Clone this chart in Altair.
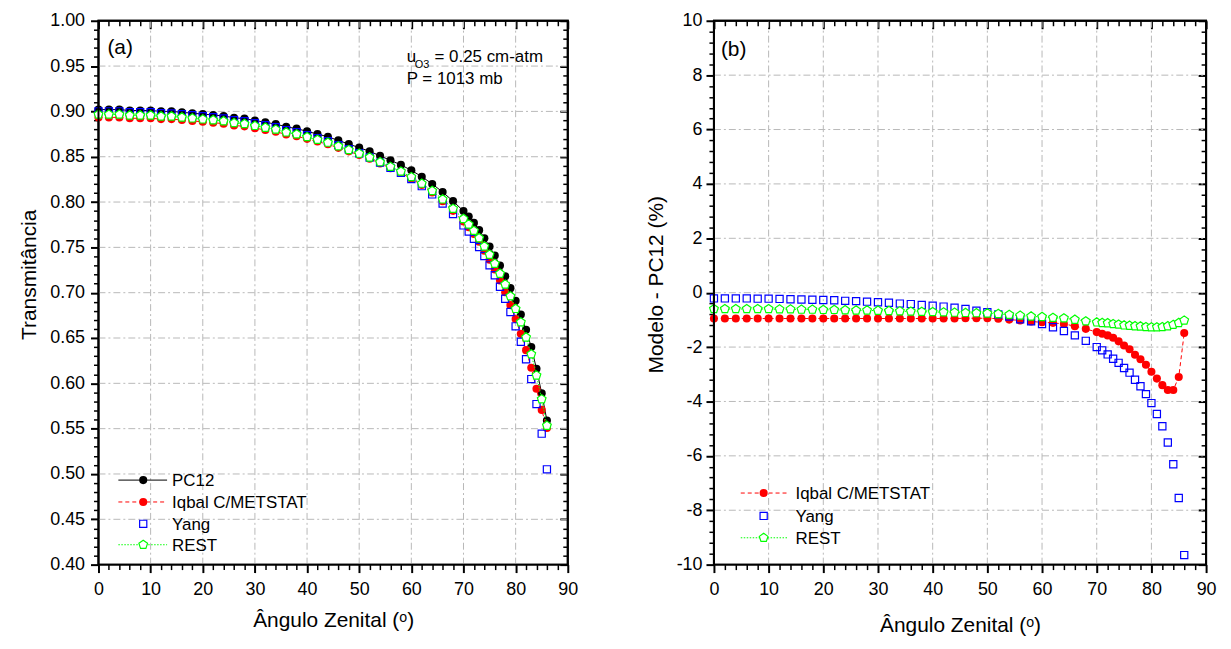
import altair as alt
import pandas as pd

FONT = "Liberation Sans"

# ---------------- data ----------------
angles = [0, 2, 4, 6, 8, 10, 12, 14, 16, 18, 20, 22, 24, 26, 28, 30, 32, 34, 36, 38,
          40, 42, 44, 46, 48, 50, 52, 54, 56, 58, 60, 62, 64, 66, 68, 70,
          71, 72, 73, 74, 75, 76, 77, 78, 79, 80, 81, 82, 83, 84, 85, 86]

pc12 = [0.902, 0.902, 0.902, 0.901, 0.901, 0.901, 0.900, 0.900, 0.899, 0.898,
        0.897, 0.896, 0.895, 0.893, 0.892, 0.890, 0.888, 0.886, 0.883, 0.881,
        0.878, 0.875, 0.872, 0.868, 0.864, 0.860, 0.856, 0.851, 0.846, 0.841,
        0.835, 0.828, 0.820, 0.811, 0.801, 0.790,
        0.784, 0.777, 0.769, 0.760, 0.751, 0.741, 0.730, 0.718, 0.705, 0.691,
        0.676, 0.659, 0.640, 0.616, 0.589, 0.559]

iqbal = [0.8934, 0.8934, 0.8934, 0.8924, 0.8924, 0.8924, 0.8915, 0.8915, 0.8905, 0.8895,
         0.8885, 0.8875, 0.8865, 0.8845, 0.8835, 0.8815, 0.8796, 0.8776, 0.8746, 0.8726,
         0.8697, 0.8667, 0.8637, 0.8598, 0.8559, 0.8519, 0.8478, 0.8426, 0.8374, 0.8321,
         0.8259, 0.8188, 0.8106, 0.8010, 0.7903, 0.7785,
         0.7722, 0.7648, 0.7562, 0.7464, 0.7364, 0.7256, 0.7134, 0.7004, 0.6863, 0.6709,
         0.6546, 0.6366, 0.6171, 0.5940, 0.5707, 0.5507]

yang = [0.9001, 0.9001, 0.9001, 0.8991, 0.8990, 0.8990, 0.8979, 0.8978, 0.8968, 0.8957,
        0.8946, 0.8935, 0.8923, 0.8902, 0.8891, 0.8869, 0.8847, 0.8825, 0.8793, 0.8770,
        0.8738, 0.8705, 0.8672, 0.8628, 0.8583, 0.8538, 0.8492, 0.8435, 0.8377, 0.8322,
        0.8254, 0.8175, 0.8084, 0.7983, 0.7868, 0.7742,
        0.7674, 0.7594, 0.7503, 0.7404, 0.7302, 0.7192, 0.7066, 0.6933, 0.6787, 0.6629,
        0.6459, 0.6266, 0.6047, 0.5771, 0.5445, 0.5051]

rest = [0.8966, 0.8966, 0.8966, 0.8956, 0.8956, 0.8956, 0.8945, 0.8945, 0.8934, 0.8924,
        0.8913, 0.8904, 0.8893, 0.8872, 0.8862, 0.8841, 0.8821, 0.8800, 0.8769, 0.8748,
        0.8718, 0.8687, 0.8656, 0.8616, 0.8575, 0.8535, 0.8493, 0.8441, 0.8389, 0.8337,
        0.8276, 0.8204, 0.8123, 0.8030, 0.7926, 0.7814,
        0.7753, 0.7683, 0.7602, 0.7511, 0.7420, 0.7320, 0.7210, 0.7091, 0.6961, 0.6822,
        0.6674, 0.6507, 0.6321, 0.6087, 0.5825, 0.5533]

d_iqbal = [-0.95, -0.95, -0.95, -0.95, -0.95, -0.95, -0.95, -0.95, -0.95, -0.95,
           -0.95, -0.95, -0.95, -0.95, -0.95, -0.95, -0.95, -0.95, -0.95, -0.95,
           -0.95, -0.95, -0.95, -0.94, -0.94, -0.94, -0.96, -0.99, -1.02, -1.06,
           -1.09, -1.11, -1.15, -1.23, -1.33, -1.45,
           -1.51, -1.57, -1.66, -1.79, -1.94, -2.08, -2.28, -2.45, -2.65, -2.91,
           -3.16, -3.40, -3.58, -3.58, -3.10, -1.48]

d_yang = [-0.21, -0.21, -0.21, -0.21, -0.22, -0.22, -0.23, -0.24, -0.25, -0.26,
          -0.27, -0.28, -0.30, -0.31, -0.33, -0.35, -0.37, -0.40, -0.42, -0.45,
          -0.48, -0.51, -0.55, -0.60, -0.66, -0.72, -0.80, -0.88, -0.98, -1.05,
          -1.15, -1.27, -1.41, -1.57, -1.77, -2.00,
          -2.12, -2.27, -2.43, -2.58, -2.77, -2.94, -3.20, -3.44, -3.73, -4.06,
          -4.46, -4.91, -5.51, -6.31, -7.55, -9.65]

d_rest = [-0.60, -0.60, -0.60, -0.60, -0.60, -0.60, -0.61, -0.61, -0.62, -0.62,
          -0.63, -0.63, -0.64, -0.65, -0.65, -0.66, -0.67, -0.68, -0.69, -0.70,
          -0.71, -0.72, -0.73, -0.74, -0.75, -0.76, -0.78, -0.81, -0.84, -0.87,
          -0.89, -0.92, -0.94, -0.99, -1.05, -1.09,
          -1.11, -1.12, -1.15, -1.17, -1.20, -1.21, -1.23, -1.24, -1.26, -1.27,
          -1.27, -1.26, -1.23, -1.18, -1.11, -1.02]

x_ticks = [0, 10, 20, 30, 40, 50, 60, 70, 80, 90]
ya_ticks = [0.40, 0.45, 0.50, 0.55, 0.60, 0.65, 0.70, 0.75, 0.80, 0.85, 0.90, 0.95, 1.00]
yb_ticks = [-10, -8, -6, -4, -2, 0, 2, 4, 6, 8, 10]

x_minor = [v for v in range(0, 91, 2) if v % 10 != 0]
ya_minor = [round(0.40 + 0.01 * i, 2) for i in range(61) if i % 5 != 0]
yb_minor = [round(-10 + 0.4 * i, 1) for i in range(51) if i % 5 != 0]

legend_a = ["PC12", "Iqbal C/METSTAT", "Yang", "REST"]
legend_b = ["Iqbal C/METSTAT", "Yang", "REST"]

df_a = pd.DataFrame({"angle": angles, "PC12": pc12, "Iqbal": iqbal, "Yang": yang, "REST": rest})
df_b = pd.DataFrame({"angle": angles, "Iqbal": d_iqbal, "Yang": d_yang, "REST": d_rest})
one = pd.DataFrame({"k": [0]})

# ---------------- styling ----------------
W_A, W_B, H = 472, 495, 547
RED, BLUE, GREEN = "#ff0000", "#0000ff", "#00ff00"
PENT = "M0,-1L0.951,-0.309L0.588,0.809L-0.588,0.809L-0.951,-0.309Z"
GRID = "#b8b8b8"


def main_axis(orient, values, title, label_expr, lp, tp, title_y=None):
    kw = dict(orient=orient, values=values, title=title, labelExpr=label_expr,
              grid=False, domain=False, ticks=True, tickSize=8, tickWidth=2,
              tickColor="black",
              labelFont=FONT, labelFontSize=18, labelColor="black", labelPadding=lp,
              labelFlush=False, labelOverlap=False,
              titleFont=FONT, titleFontSize=21, titleFontWeight="normal",
              titleColor="black", titlePadding=tp)
    if title_y is not None:
        kw["titleY"] = title_y
    return alt.Axis(**kw)


def tick_axis(orient, values, size, width, offset=0):
    return alt.Axis(orient=orient, values=values, title=None, labels=False, grid=False,
                    domain=False, ticks=True, tickSize=size, tickWidth=width,
                    tickColor="black", offset=offset)


def panel(df, width, ydomain, yticks, yminor, ytitle, ylabel_expr, series, legend_rows,
          leg_x, tag, extra_text, ylp, ytitle_y, xtp):
    xs = alt.Scale(domain=[0, 90], nice=False, zero=False)
    ys = alt.Scale(domain=ydomain, nice=False, zero=False)
    base = alt.Chart(df)
    first = series[0][0]

    def enc(field, xa=None, ya=None):
        return dict(x=alt.X("angle:Q", scale=xs, axis=xa),
                    y=alt.Y(f"{field}:Q", scale=ys, axis=ya))

    # dash-dot grid drawn from the major tick values
    gx = pd.DataFrame({"v": x_ticks[1:-1]})
    gy = pd.DataFrame({"v": yticks[1:-1]})
    layers = [
        alt.Chart(gx).mark_rule(color=GRID, strokeWidth=1, strokeDash=[7, 3, 2, 3]).encode(
            x=alt.X("v:Q", scale=xs, axis=None),
            y=alt.value(0), y2=alt.value(H)),
        alt.Chart(gy).mark_rule(color=GRID, strokeWidth=1, strokeDash=[7, 3, 2, 3]).encode(
            y=alt.Y("v:Q", scale=ys, axis=None),
            x=alt.value(0), x2=alt.value(width)),
        base.mark_point(opacity=0).encode(**enc(first,
            main_axis("bottom", x_ticks, "Ângulo Zenital (ᵒ)", "datum.label", 8, xtp),
            main_axis("left", yticks, ytitle, ylabel_expr, ylp, 10, ytitle_y))),
        base.mark_point(opacity=0).encode(**enc(first,
            tick_axis("bottom", x_minor, 5, 1.5), tick_axis("left", yminor, 5, 1.5))),
        base.mark_point(opacity=0).encode(**enc(first,
            tick_axis("top", x_ticks, 8, 2, -8), tick_axis("right", yticks, 8, 2, -8))),
        base.mark_point(opacity=0).encode(**enc(first,
            tick_axis("top", x_minor, 5, 1.5, -5), tick_axis("right", yminor, 5, 1.5, -5))),
    ]

    for field, kind in series:
        if kind == "pc12":
            layers.append(base.mark_line(color="black", strokeWidth=1).encode(**enc(field)))
            layers.append(base.mark_point(shape="circle", filled=True, color="black",
                                          size=66, opacity=1).encode(**enc(field)))
        elif kind == "iqbal":
            layers.append(base.mark_line(color=RED, strokeWidth=1, strokeDash=[4, 3]).encode(**enc(field)))
            layers.append(base.mark_point(shape="circle", filled=True, color=RED,
                                          size=66, opacity=1).encode(**enc(field)))
        elif kind == "yang":
            layers.append(base.mark_point(shape="square", filled=False, color=BLUE,
                                          size=52, strokeWidth=1.2, opacity=1).encode(**enc(field)))
        elif kind == "rest":
            layers.append(base.mark_line(color=GREEN, strokeWidth=1, strokeDash=[1.5, 1.5]).encode(**enc(field)))
            layers.append(base.mark_point(shape=PENT, filled=True, fill="white", stroke=GREEN,
                                          strokeWidth=1.2, size=84, opacity=1).encode(**enc(field)))

    # manual legend
    lx1, lsym, lx2, ltxt = leg_x
    for (label, kind, yy) in legend_rows:
        one_c = alt.Chart(one)
        if kind == "pc12":
            layers.append(one_c.mark_rule(color="black", strokeWidth=1).encode(
                x=alt.value(lx1), x2=alt.value(lx2), y=alt.value(yy)))
            layers.append(one_c.mark_point(shape="circle", filled=True, color="black", size=66,
                                           opacity=1).encode(x=alt.value(lsym), y=alt.value(yy)))
        elif kind == "iqbal":
            layers.append(one_c.mark_rule(color=RED, strokeWidth=1, strokeDash=[4, 3]).encode(
                x=alt.value(lx1), x2=alt.value(lx2), y=alt.value(yy)))
            layers.append(one_c.mark_point(shape="circle", filled=True, color=RED, size=66,
                                           opacity=1).encode(x=alt.value(lsym), y=alt.value(yy)))
        elif kind == "yang":
            layers.append(one_c.mark_point(shape="square", filled=False, color=BLUE, size=52,
                                           strokeWidth=1.2, opacity=1).encode(
                x=alt.value(lsym), y=alt.value(yy)))
        elif kind == "rest":
            layers.append(one_c.mark_rule(color=GREEN, strokeWidth=1, strokeDash=[1.5, 1.5]).encode(
                x=alt.value(lx1), x2=alt.value(lx2), y=alt.value(yy)))
            layers.append(one_c.mark_point(shape=PENT, filled=True, fill="white", stroke=GREEN,
                                           strokeWidth=1.2, size=84, opacity=1).encode(
                x=alt.value(lsym), y=alt.value(yy)))
        layers.append(one_c.mark_text(text=label, font=FONT, fontSize=17, align="left",
                                      baseline="middle", color="black").encode(
            x=alt.value(ltxt), y=alt.value(yy + 1)))

    for (s, x, y, size) in [tag] + extra_text:
        layers.append(alt.Chart(one).mark_text(text=s, font=FONT, fontSize=size, align="left",
                                               baseline="alphabetic", color="black").encode(
            x=alt.value(x), y=alt.value(y)))

    # black plot frame
    layers.append(alt.Chart(one).mark_rect(fill="transparent", stroke="black", strokeWidth=2).encode(
        x=alt.value(0), x2=alt.value(width), y=alt.value(0), y2=alt.value(H)))

    return alt.layer(*layers).resolve_axis(x="independent", y="independent").properties(
        width=width, height=H)


chart_a = panel(
    df_a, W_A, [0.40, 1.00], ya_ticks, ya_minor, "Transmitância", "format(datum.value, '.2f')",
    [("PC12", "pc12"), ("Iqbal", "iqbal"), ("Yang", "yang"), ("REST", "rest")],
    [(legend_a[0], "pc12", 462), (legend_a[1], "iqbal", 484),
     (legend_a[2], "yang", 506), (legend_a[3], "rest", 527)],
    (20, 45, 69, 74),
    ("(a)", 9, 33, 21),
    [("u", 310, 41, 17), ("O3", 318, 48, 11), ("= 0.25 cm-atm", 338, 41, 17),
     ("P = 1013 mb", 310, 64, 17)],
    6, 255, 11,
)

chart_b = panel(
    df_b, W_B, [-10, 10], yb_ticks, yb_minor, "Modelo - PC12 (%)",
    "datum.value < 0 ? '-' + format(-datum.value, 'd') : format(datum.value, 'd')",
    [("Iqbal", "iqbal"), ("Yang", "yang"), ("REST", "rest")],
    [(legend_b[0], "iqbal", 475), (legend_b[1], "yang", 498), (legend_b[2], "rest", 520)],
    (27, 50, 75, 82),
    ("(b)", 7, 35, 21),
    [],
    4, 265, 16,
)

chart = (
    alt.hconcat(chart_a, chart_b, spacing=64)
    .properties(padding={"left": 9, "top": 1, "right": 5, "bottom": 5})
    .configure(font=FONT)
    .configure_view(stroke="black", strokeWidth=2)
)

chart.save("out.html", embed_options={"renderer": "svg", "actions": False})
